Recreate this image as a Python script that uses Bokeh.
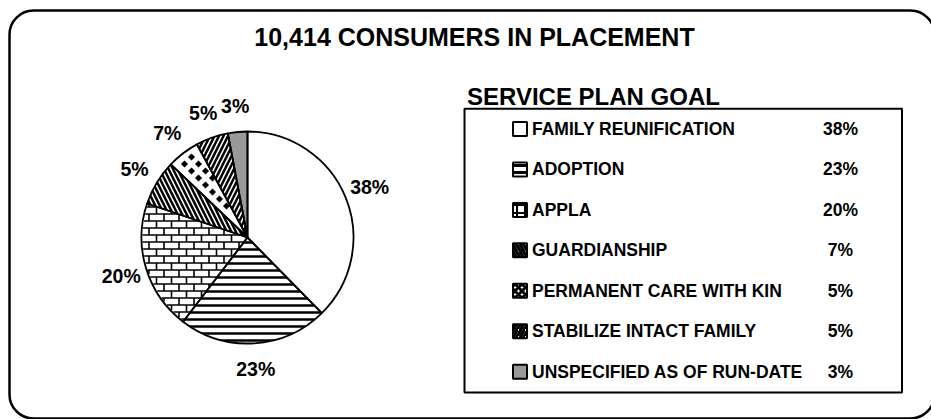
import math
from bokeh.plotting import figure
from bokeh.models import ColumnDataSource, Range1d, BoxAnnotation
from bokeh.core.properties import value
from bokeh.embed import file_html
from bokeh.resources import INLINE

# ---------------- data ----------------
title_text = "10,414 CONSUMERS IN PLACEMENT"
legend_title = "SERVICE PLAN GOAL"
categories = ["FAMILY REUNIFICATION", "ADOPTION", "APPLA", "GUARDIANSHIP",
              "PERMANENT CARE WITH KIN", "STABILIZE INTACT FAMILY",
              "UNSPECIFIED AS OF RUN-DATE"]
shares = [38, 23, 20, 7, 5, 5, 3]
legend_pct = ["38%", "23%", "20%", "7%", "5%", "5%", "3%"]
pie_labels = ["38%", "23%", "20%", "5%", "7%", "5%", "3%"]

# ---------------- styles ----------------
FONT = "Liberation Sans"
fills = ["white", "white", "white", "white", "white", "white", "#999999"]
pie_hatches = ["blank", "horizontal_line", "blank", "left_diagonal_line", "blank",
               "right_diagonal_line", "blank"]
pie_hscales = [8, 7, 8, 9, 8, 9, 8]
pie_hweights = [1, 2.5, 1, 2.5, 1, 2.5, 1]
icon_hatches = ["blank", "horizontal_line", "cross", "left_diagonal_line",
                "diagonal_cross", "right_diagonal_line", "blank"]
icon_hscales = [8, 7, 8, 7, 7, 7, 8]
icon_hweights = [3, 3, 2, 3, 3, 3, 3]
BRICK_IDX, DIAMOND_IDX = 2, 4

W, H = 931, 419
def fx(X):
    return X
def fy(Y):
    return H - Y

p = figure(width=W, height=H, output_backend="svg", toolbar_location=None,
           x_range=Range1d(0, W), y_range=Range1d(0, H),
           x_axis_type=None, y_axis_type=None, min_border=0,
           outline_line_color=None, background_fill_color="white",
           border_fill_color="white")
p.grid.visible = False

# rounded outer frame
p.add_layout(BoxAnnotation(left=fx(9), right=fx(934), top=fy(10), bottom=fy(418),
                           border_radius=24, fill_alpha=0, line_color="black",
                           line_alpha=1, line_dash="solid", line_width=2.5))

# title
p.text(x=[fx(474)], y=[fy(36)], text=[title_text], text_font=value(FONT),
       text_font_style="bold", text_font_size="25px", text_align="center",
       text_baseline="middle", text_color="black")

# ---------------- pie ----------------
cx, cy, R = fx(247), fy(237), 106
total = float(sum(shares))
starts, ends, lx, ly = [], [], [], []
c = 0.0
for s in shares:
    c0, c1 = c / total, (c + s) / total
    starts.append(math.pi / 2 - 2 * math.pi * c0)
    ends.append(math.pi / 2 - 2 * math.pi * c1)
    mid = math.pi / 2 - 2 * math.pi * (c0 + c1) / 2
    lx.append(cx + 132 * math.cos(mid))
    ly.append(cy + 132 * math.sin(mid))
    c += s

src = ColumnDataSource(dict(start=starts, end=ends, fill=fills, hatch=pie_hatches,
                            hs=pie_hscales, hw=pie_hweights, cat=categories))
p.wedge(x=cx, y=cy, radius=R, radius_units="screen", start_angle="start",
        end_angle="end", direction="clock", fill_color="fill",
        hatch_pattern="hatch", hatch_color="black", hatch_scale="hs",
        hatch_weight="hw", line_color=None, source=src)


def clip_seg(ax, ay, bx, by, rad, th_lo, th_hi):
    """Clip segment A-B to the pie sector between th_lo and th_hi (ccw)."""
    dx, dy = bx - ax, by - ay
    px, py = ax - cx, ay - cy
    t0, t1 = 0.0, 1.0
    a = dx * dx + dy * dy
    b = 2 * (px * dx + py * dy)
    cc = px * px + py * py - rad * rad
    disc = b * b - 4 * a * cc
    if disc <= 0:
        return None
    sq = math.sqrt(disc)
    t0 = max(t0, (-b - sq) / (2 * a))
    t1 = min(t1, (-b + sq) / (2 * a))
    for th, sign in ((th_lo, 1.0), (th_hi, -1.0)):
        ux, uy = math.cos(th), math.sin(th)
        g0 = sign * (ux * py - uy * px)
        g1 = sign * (ux * dy - uy * dx)
        if abs(g1) < 1e-12:
            if g0 < 0:
                return None
            continue
        tt = -g0 / g1
        if g1 > 0:
            t0 = max(t0, tt)
        else:
            t1 = min(t1, tt)
    if t1 <= t0:
        return None
    return ([ax + t0 * dx, ax + t1 * dx], [ay + t0 * dy, ay + t1 * dy])


def inside(x, y, rad, th_lo, th_hi, margin):
    px, py = x - cx, y - cy
    if math.hypot(px, py) > rad - margin:
        return False
    d1 = math.cos(th_lo) * py - math.sin(th_lo) * px
    d2 = -(math.cos(th_hi) * py - math.sin(th_hi) * px)
    return d1 >= margin and d2 >= margin


# brick pattern for APPLA
lo, hi = ends[BRICK_IDX], starts[BRICK_IDX]
bxs, bys = [], []
rows = [cy - R + 3.5 + 7 * k for k in range(31)]
for k, yk in enumerate(rows):
    seg = clip_seg(cx - R - 5, yk, cx + R + 5, yk, R - 1, lo, hi)
    if seg:
        bxs.append(seg[0]); bys.append(seg[1])
    if k + 1 < len(rows):
        for m in range(16):
            xv = cx - R + (k % 2) * 7.5 + 15 * m
            seg = clip_seg(xv, yk, xv, rows[k + 1], R - 1, lo, hi)
            if seg:
                bxs.append(seg[0]); bys.append(seg[1])
p.multi_line(xs=bxs, ys=bys, line_color="black", line_width=1.6)

# diamond checker pattern for PERMANENT CARE WITH KIN
lo, hi = ends[DIAMOND_IDX], starts[DIAMOND_IDX]
dxs, dys = [], []
for j in range(34):
    yy = cy + 3.5 + 7 * j - 7 * 17
    for m in range(-9, 10):
        xx = cx + 7 * (j % 2) + 14 * m
        if inside(xx, yy, R, lo, hi, 2.0):
            dxs.append(xx); dys.append(yy)
p.scatter(x=dxs, y=dys, marker="square", size=4.6, angle=math.pi / 4,
          fill_color="black", line_color="black", line_width=0.5)

# wedge outlines on top
p.wedge(x=cx, y=cy, radius=R, radius_units="screen", start_angle="start",
        end_angle="end", direction="clock", fill_alpha=0,
        line_color="black", line_width=1.8, source=src)

p.text(x=lx, y=ly, text=pie_labels, text_font=value(FONT), text_font_style="bold",
       text_font_size="19.5px", text_align="center", text_baseline="middle",
       text_color="black")

# ---------------- legend ----------------
p.text(x=[fx(466.5)], y=[fy(96)], text=[legend_title], text_font=value(FONT),
       text_font_style="bold", text_font_size="24px", text_align="left",
       text_baseline="middle", text_color="black")
p.quad(left=[fx(464)], right=[fx(901.5)], top=[fy(108.3)], bottom=[fy(392)],
       fill_alpha=0, line_color="black", line_width=2)

row0, step = 128.5, 40.45
rows_y = [fy(row0 + i * step) for i in range(len(categories))]
lsrc = ColumnDataSource(dict(y=rows_y, fill=fills, hatch=icon_hatches,
                             hs=icon_hscales, hw=icon_hweights,
                             cat=categories, pct=legend_pct))
p.rect(x=fx(519.5), y="y", width=14, height=14, width_units="screen",
       height_units="screen", fill_color="fill", hatch_pattern="hatch",
       hatch_color="black", hatch_scale="hs", hatch_weight="hw",
       line_color="black", line_width=2, source=lsrc)
p.text(x=fx(531.5), y="y", text="cat", text_font=value(FONT),
       text_font_style="bold", text_font_size="17.5px", text_align="left",
       text_baseline="middle", text_color="black", source=lsrc)
p.text(x=fx(840), y="y", text="pct", text_font=value(FONT),
       text_font_style="bold", text_font_size="17.5px", text_align="center",
       text_baseline="middle", text_color="black", source=lsrc)

open("out.html", "w").write(file_html(p, INLINE))
